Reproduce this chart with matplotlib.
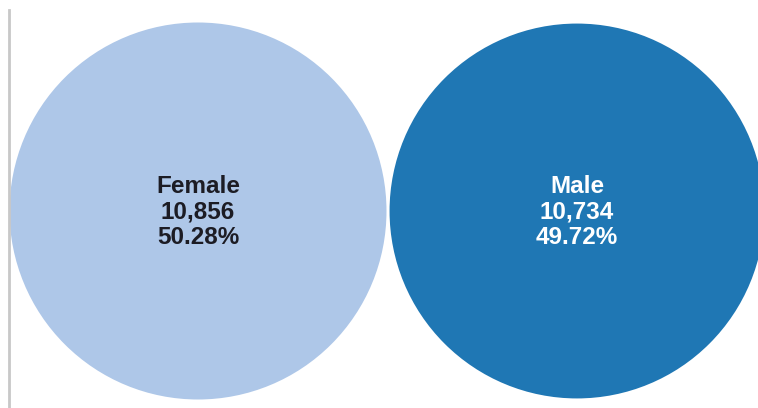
import matplotlib.pyplot as plt
from matplotlib.patches import Circle

labels = ["Female", "Male"]
counts = [10856, 10734]
fill_colors = ["#aec7e8", "#1f77b4"]
text_colors = ["#1c1c24", "#ffffff"]

total = sum(counts)
shares = [c / total * 100 for c in counts]

fig = plt.figure(figsize=(7.58, 4.08), dpi=100)
ax = fig.add_axes([0, 0, 1, 1])
ax.set_xlim(0, 758)
ax.set_ylim(408, 0)
ax.set_aspect("equal")
ax.axis("off")

# bubble radius scales with sqrt of the count
scale = 188.5 / max(counts) ** 0.5
centers = [(198, 211), (577, 211)]

for label, count, share, (cx, cy), fc, tc in zip(
        labels, counts, shares, centers, fill_colors, text_colors):
    r = scale * count ** 0.5
    ax.add_patch(Circle((cx, cy), r, facecolor=fc, edgecolor="none"))
    ax.text(
        cx, cy + 1,
        f"{label}\n{count:,}\n{share:.2f}%",
        ha="center", va="center",
        fontsize=17.5, fontweight="bold",
        family="Liberation Sans",
        color=tc, linespacing=1.12
    )

# left axis line
ax.plot([9, 9], [10, 408], color="#c8c8c8", linewidth=2)

fig.savefig("out.png", dpi=100)
